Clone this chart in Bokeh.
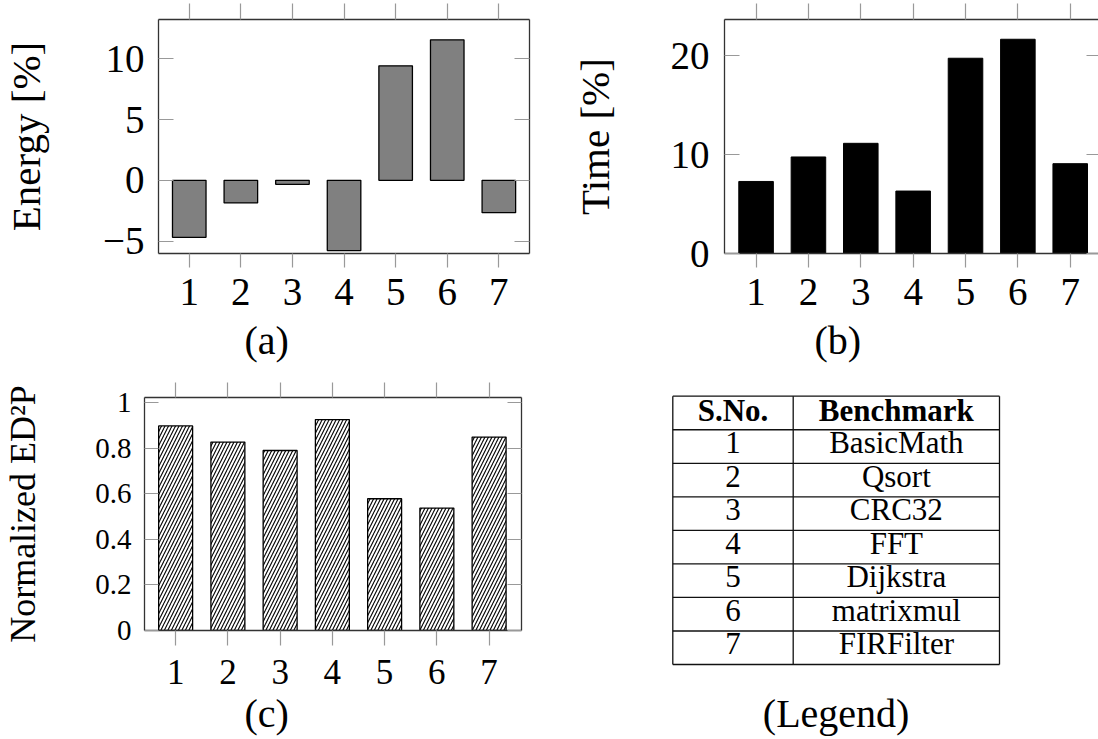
from bokeh.plotting import figure
from bokeh.models import Range1d, LinearAxis, FixedTicker, Title
from bokeh.layouts import row, column
from bokeh.embed import file_html
from bokeh.resources import INLINE
from bokeh.core.properties import value

# ---------------- data ----------------
bench_ids = [1, 2, 3, 4, 5, 6, 7]
energy = [-4.69, -1.86, -0.33, -5.78, 9.43, 11.57, -2.66]
time_pct = [7.29, 9.77, 11.15, 6.32, 19.76, 21.68, 9.09]
ed2p = [0.899, 0.828, 0.791, 0.927, 0.579, 0.538, 0.850]
bench_names = ["BasicMath", "Qsort", "CRC32", "FFT", "Dijkstra", "matrixmul", "FIRFilter"]
table_header = ["S.No.", "Benchmark"]

energy_ticks = [-5, 0, 5, 10]
energy_tick_labels = ["\u22125", "0", "5", "10"]
time_ticks = [0, 10, 20]
time_tick_labels = ["0", "10", "20"]
ed2p_ticks = [0, 0.2, 0.4, 0.6, 0.8, 1]
ed2p_tick_labels = ["0", "0.2", "0.4", "0.6", "0.8", "1"]

FONT = "Liberation Serif"
FRAME = "#333333"
TICK = "#999999"


def add_axes(p, yticks, ylabels, ylabel, xfs, yfs, lfs, xstand, ystand, lstand,
             top_out, bot_out, yin, rin, right_line=True):
    common = dict(axis_line_color=FRAME, axis_line_width=1.3,
                  major_tick_line_color=TICK, major_tick_line_width=1.2,
                  minor_tick_line_color=None, major_label_text_font=FONT,
                  major_label_text_color="black")
    bx = LinearAxis(ticker=FixedTicker(ticks=bench_ids), major_tick_in=0,
                    major_tick_out=bot_out, major_label_text_font_size=xfs,
                    major_label_standoff=xstand, **common)
    tx = LinearAxis(ticker=FixedTicker(ticks=bench_ids), major_tick_in=0,
                    major_tick_out=top_out, major_label_text_font_size="0px",
                    major_label_standoff=0,
                    major_label_overrides={t: "" for t in bench_ids}, **common)
    ly = LinearAxis(ticker=FixedTicker(ticks=yticks), major_tick_in=yin,
                    major_tick_out=0, major_label_text_font_size=yfs,
                    major_label_standoff=ystand,
                    major_label_overrides=dict(zip(yticks, ylabels)),
                    axis_label=ylabel, axis_label_text_font=FONT,
                    axis_label_text_font_size=lfs,
                    axis_label_text_font_style="normal",
                    axis_label_text_color="black",
                    axis_label_standoff=lstand, **common)
    ry = LinearAxis(ticker=FixedTicker(ticks=yticks), major_tick_in=rin,
                    major_tick_out=0, major_label_text_font_size="0px",
                    major_label_standoff=0,
                    major_label_overrides={t: "" for t in yticks}, **common)
    if not right_line:
        ry.axis_line_color = None
    p.add_layout(bx, "below")
    p.add_layout(tx, "above")
    p.add_layout(ly, "left")
    p.add_layout(ry, "right")


def base_fig(w, h, xr, yr, bl, br, bt, bb):
    p = figure(width=w, height=h, x_range=Range1d(*xr), y_range=Range1d(*yr),
               toolbar_location=None, output_backend="svg",
               x_axis_type=None, y_axis_type=None, frame_align=False,
               min_border_left=bl, min_border_right=br,
               min_border_top=bt, min_border_bottom=bb)
    p.outline_line_color = None
    p.background_fill_color = "white"
    p.border_fill_color = "white"
    return p


def caption(p, text, offset, standoff):
    p.add_layout(Title(text=text, align="left", offset=offset,
                       text_font=FONT, text_font_size="40px",
                       text_font_style="normal", text_color="black",
                       standoff=standoff), "below")


LEFT_W = 568
RIGHT_W = 530
ROW1_H = 372
ROW2_H = 367

# ---------------- (a) energy ----------------
pa = base_fig(LEFT_W, ROW1_H, (0.404, 7.594), (-6.02, 13.24), 150, 39, 19, 119)
pa.vbar(x=bench_ids, top=energy, bottom=0, width=0.65,
        fill_color="#808080", line_color="black", line_width=1.3)
add_axes(pa, energy_ticks, energy_tick_labels, "Energy [%]", "39px", "39px", "41px",
         11, 14, 51, 16, 14, 15, 15)
caption(pa, "(a)", 86, 16)

# ---------------- (b) time ----------------
pb = base_fig(RIGHT_W, ROW1_H, (0.397, 7.54), (0, 23.68), 154, 0, 19, 119)
pb.vbar(x=bench_ids, top=time_pct, bottom=0, width=0.66,
        fill_color="black", line_color="black", line_width=1.0)
add_axes(pb, time_ticks, time_tick_labels, "Time [%]", "39px", "39px", "41px",
         11, 15, 50, 16, 14, 15, 12, right_line=False)
caption(pb, "(b)", 90, 16)

# ---------------- (c) ED2P ----------------
pc = base_fig(LEFT_W, ROW2_H, (0.404, 7.62), (0, 1.024), 142, 47, 25, 109)
pc.vbar(x=bench_ids, top=ed2p, bottom=0, width=0.65,
        fill_color="white", line_color="black", line_width=1.3,
        hatch_pattern="/", hatch_color="black", hatch_scale=7, hatch_weight=1.1)
add_axes(pc, ed2p_ticks, ed2p_tick_labels, "Normalized ED\u00b2P", "35px", "29px", "36px",
         14, 13, 49, 15, 15, 14, 14)
caption(pc, "(c)", 100, 5)

# ---------------- legend table ----------------
pt = figure(width=RIGHT_W, height=ROW2_H, x_range=Range1d(LEFT_W, LEFT_W + RIGHT_W),
            y_range=Range1d(ROW1_H + ROW2_H, ROW1_H),
            toolbar_location=None, output_backend="svg", frame_align=False,
            x_axis_type=None, y_axis_type=None, min_border=0)
pt.outline_line_color = None
pt.grid.visible = False

T_LEFT, T_MID, T_RIGHT, T_TOP, ROW_H = 672.3, 792.7, 999.0, 395.7, 33.54
TXT_SHIFT = 0.39  # baseline correction (em)
n_rows = len(bench_names) + 1
h_y = [T_TOP + i * ROW_H for i in range(n_rows + 1)]
pt.segment(x0=[T_LEFT] * len(h_y), x1=[T_RIGHT] * len(h_y), y0=h_y, y1=h_y,
           line_color="#111111", line_width=1.3)
v_x = [T_LEFT, T_MID, T_RIGHT]
pt.segment(x0=v_x, x1=v_x, y0=[h_y[0]] * 3, y1=[h_y[-1]] * 3,
           line_color="#111111", line_width=1.3)

c1 = (T_LEFT + T_MID) / 2
c2 = (T_MID + T_RIGHT) / 2
base_off = ROW_H * 0.74 - TXT_SHIFT * 31
pt.text(x=[c1, c2], y=[T_TOP + base_off + 2] * 2, text=table_header,
        text_font=value(FONT), text_font_size="31px", text_font_style="bold",
        text_align="center", text_baseline="alphabetic", text_color="black")
row_base = [T_TOP + (i + 1) * ROW_H + base_off for i in range(len(bench_names))]
pt.text(x=[c1] * len(bench_ids), y=row_base, text=[str(i) for i in bench_ids],
        text_font=value(FONT), text_font_size="31px",
        text_align="center", text_baseline="alphabetic", text_color="black")
pt.text(x=[c2] * len(bench_names), y=row_base, text=bench_names,
        text_font=value(FONT), text_font_size="31px",
        text_align="center", text_baseline="alphabetic", text_color="black")
pt.text(x=[(T_LEFT + T_RIGHT) / 2], y=[713], text=["(Legend)"],
        text_font=value(FONT), text_font_size="40px",
        text_align="center", text_baseline="alphabetic", text_color="black")

layout = column(row(pa, pb), row(pc, pt))
open("out.html", "w").write(file_html(layout, INLINE))
